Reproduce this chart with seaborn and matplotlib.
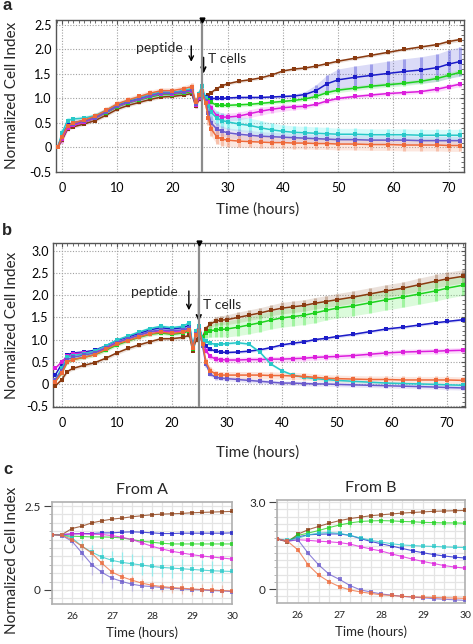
import numpy as np
import pandas as pd
import seaborn as sns
import matplotlib.pyplot as plt
from matplotlib.ticker import MultipleLocator, FuncFormatter

# ------------------------------------------------
# Data
# ------------------------------------------------
time_a = [-0.8, 0, 1, 2, 4, 6, 8, 10, 12, 14, 16, 18, 20, 22, 23.5, 24.2, 24.8, 25.3, 26, 26.5,
          27, 28, 29, 30, 32, 34, 36, 38, 40, 42, 44, 46, 48, 50, 53, 56, 59, 62, 65, 68, 70, 72]

a_brown = [0.0, 0.15, 0.38, 0.42, 0.48, 0.55, 0.66, 0.78, 0.86, 0.92, 0.98, 1.03, 1.04, 1.07, 1.1, 0.84, 0.98, 1.05, 1.02, 1.07,
           1.12, 1.2, 1.26, 1.3, 1.35, 1.38, 1.42, 1.48, 1.56, 1.6, 1.62, 1.66, 1.71, 1.76, 1.82, 1.88, 1.94, 2.0, 2.05, 2.1, 2.16, 2.2]
a_blue = [0.0, 0.25, 0.45, 0.5, 0.55, 0.62, 0.74, 0.86, 0.94, 1.0, 1.07, 1.12, 1.12, 1.15, 1.18, 0.9, 1.05, 1.15, 1.03, 1.0,
          1.0, 1.0, 1.0, 1.01, 1.02, 1.02, 1.02, 1.03, 1.04, 1.05, 1.08, 1.16, 1.3, 1.38, 1.43, 1.47, 1.51, 1.55, 1.58, 1.63, 1.7, 1.75]
a_green = [0.0, 0.2, 0.42, 0.46, 0.52, 0.6, 0.71, 0.83, 0.91, 0.97, 1.03, 1.08, 1.08, 1.11, 1.14, 0.88, 1.02, 1.12, 1.0, 0.97,
           0.92, 0.86, 0.86, 0.86, 0.87, 0.88, 0.9, 0.92, 0.94, 0.96, 0.99, 1.04, 1.12, 1.17, 1.21, 1.25, 1.28, 1.31, 1.35, 1.41, 1.47, 1.53]
a_magenta = [0.0, 0.18, 0.4, 0.45, 0.52, 0.6, 0.72, 0.84, 0.92, 0.98, 1.05, 1.1, 1.1, 1.13, 1.16, 0.86, 1.0, 1.1, 1.0, 0.92,
             0.8, 0.65, 0.62, 0.62, 0.64, 0.69, 0.74, 0.78, 0.81, 0.83, 0.84, 0.88, 0.95, 1.0, 1.04, 1.07, 1.1, 1.12, 1.14, 1.19, 1.24, 1.29]
a_cyan = [0.0, 0.3, 0.55, 0.58, 0.6, 0.65, 0.76, 0.88, 0.96, 1.02, 1.08, 1.13, 1.12, 1.16, 1.2, 0.9, 1.1, 1.25, 1.0, 0.85,
          0.72, 0.6, 0.55, 0.52, 0.48, 0.45, 0.4, 0.36, 0.33, 0.31, 0.3, 0.29, 0.28, 0.27, 0.27, 0.26, 0.26, 0.26, 0.25, 0.25, 0.25, 0.25]
a_purple = [0.0, 0.22, 0.44, 0.48, 0.54, 0.61, 0.72, 0.85, 0.93, 0.99, 1.06, 1.11, 1.11, 1.14, 1.17, 0.88, 1.04, 1.14, 0.95, 0.7,
            0.5, 0.38, 0.33, 0.3, 0.27, 0.25, 0.23, 0.22, 0.21, 0.2, 0.19, 0.18, 0.17, 0.16, 0.16, 0.15, 0.15, 0.15, 0.14, 0.14, 0.14, 0.14]
a_orange = [0.0, 0.22, 0.44, 0.5, 0.56, 0.64, 0.76, 0.89, 0.97, 1.04, 1.11, 1.16, 1.16, 1.2, 1.24, 0.92, 1.08, 1.15, 0.9, 0.6,
            0.38, 0.22, 0.17, 0.15, 0.13, 0.12, 0.11, 0.1, 0.1, 0.09, 0.09, 0.08, 0.08, 0.07, 0.07, 0.06, 0.06, 0.05, 0.05, 0.05, 0.04, 0.04]

a_brown_sd = [0.0, 0.03, 0.03, 0.03, 0.03, 0.03, 0.03, 0.03, 0.03, 0.03, 0.03, 0.03, 0.03, 0.03, 0.03, 0.03, 0.03, 0.03, 0.03, 0.03,
              0.03, 0.03, 0.03, 0.03, 0.03, 0.03, 0.03, 0.03, 0.03, 0.03, 0.03, 0.03, 0.03, 0.03, 0.03, 0.03, 0.03, 0.03, 0.03, 0.03, 0.04, 0.04]
a_blue_sd = [0.0, 0.05, 0.05, 0.05, 0.04, 0.04, 0.04, 0.04, 0.04, 0.04, 0.04, 0.04, 0.04, 0.04, 0.04, 0.04, 0.05, 0.05, 0.04, 0.03,
             0.03, 0.03, 0.03, 0.03, 0.03, 0.03, 0.03, 0.03, 0.03, 0.04, 0.06, 0.12, 0.18, 0.22, 0.23, 0.24, 0.25, 0.26, 0.27, 0.28, 0.29, 0.3]
a_green_sd = [0.0, 0.04, 0.04, 0.04, 0.04, 0.04, 0.04, 0.04, 0.04, 0.04, 0.04, 0.04, 0.04, 0.04, 0.04, 0.04, 0.04, 0.04, 0.04, 0.04,
              0.04, 0.04, 0.04, 0.04, 0.04, 0.04, 0.04, 0.04, 0.04, 0.04, 0.04, 0.05, 0.05, 0.05, 0.05, 0.05, 0.05, 0.05, 0.05, 0.06, 0.06, 0.06]
a_magenta_sd = [0.0, 0.08, 0.06, 0.05, 0.05, 0.05, 0.05, 0.05, 0.05, 0.05, 0.05, 0.05, 0.05, 0.05, 0.05, 0.05, 0.05, 0.05, 0.05, 0.06,
                0.08, 0.08, 0.08, 0.08, 0.08, 0.08, 0.08, 0.07, 0.07, 0.06, 0.05, 0.04, 0.04, 0.04, 0.04, 0.04, 0.04, 0.04, 0.04, 0.05, 0.05, 0.05]
a_cyan_sd = [0.0, 0.08, 0.06, 0.05, 0.05, 0.05, 0.05, 0.05, 0.05, 0.05, 0.05, 0.05, 0.05, 0.05, 0.05, 0.05, 0.06, 0.06, 0.08, 0.12,
             0.15, 0.15, 0.15, 0.15, 0.15, 0.15, 0.15, 0.14, 0.13, 0.13, 0.13, 0.13, 0.13, 0.12, 0.12, 0.12, 0.12, 0.12, 0.12, 0.12, 0.12, 0.12]
a_purple_sd = [0.0, 0.06, 0.05, 0.05, 0.05, 0.05, 0.05, 0.05, 0.05, 0.05, 0.05, 0.05, 0.05, 0.05, 0.05, 0.05, 0.06, 0.06, 0.1, 0.14,
               0.14, 0.12, 0.1, 0.1, 0.1, 0.1, 0.09, 0.09, 0.09, 0.09, 0.09, 0.09, 0.09, 0.09, 0.09, 0.09, 0.09, 0.09, 0.09, 0.09, 0.09, 0.09]
a_orange_sd = [0.0, 0.06, 0.06, 0.06, 0.06, 0.06, 0.06, 0.06, 0.06, 0.06, 0.06, 0.06, 0.06, 0.06, 0.07, 0.07, 0.07, 0.07, 0.1, 0.15,
               0.15, 0.14, 0.13, 0.13, 0.13, 0.12, 0.12, 0.12, 0.12, 0.12, 0.12, 0.12, 0.12, 0.12, 0.12, 0.12, 0.12, 0.12, 0.12, 0.12, 0.12, 0.12]

time_b = [-1.2, 0, 1, 2, 4, 6, 8, 10, 12, 14, 16, 18, 20, 22, 23.2, 23.8, 24.4, 25.0, 25.6, 26.2,
          27, 28, 29, 30, 32, 34, 36, 38, 40, 42, 44, 46, 48, 50, 53, 56, 59, 62, 65, 68, 70, 73]

b_brown = [-0.05, 0.1, 0.28, 0.35, 0.42, 0.48, 0.58, 0.7, 0.8, 0.88, 0.95, 1.02, 1.02, 1.05, 1.1, 0.75, 1.0, 1.05, 1.05, 1.25,
           1.35, 1.42, 1.44, 1.45, 1.5, 1.55, 1.6, 1.66, 1.71, 1.74, 1.77, 1.82, 1.86, 1.9, 1.96, 2.03, 2.1, 2.16, 2.24, 2.32, 2.37, 2.43]
b_blue = [0.2, 0.45, 0.66, 0.7, 0.72, 0.76, 0.86, 0.98, 1.06, 1.14, 1.22, 1.27, 1.24, 1.27, 1.32, 0.82, 1.15, 1.25, 1.02, 0.85,
          0.78, 0.74, 0.72, 0.71, 0.72, 0.74, 0.77, 0.82, 0.88, 0.92, 0.95, 1.0, 1.03, 1.07, 1.12, 1.18, 1.24, 1.28, 1.33, 1.38, 1.41, 1.45]
b_green = [0.05, 0.25, 0.5, 0.55, 0.6, 0.66, 0.76, 0.88, 0.97, 1.05, 1.12, 1.15, 1.12, 1.15, 1.2, 0.78, 1.1, 1.2, 1.05, 1.15,
           1.2, 1.22, 1.23, 1.24, 1.28, 1.33, 1.38, 1.44, 1.49, 1.52, 1.55, 1.6, 1.66, 1.71, 1.76, 1.83, 1.9, 1.96, 2.03, 2.1, 2.16, 2.23]
b_magenta = [0.35, 0.5, 0.62, 0.68, 0.7, 0.72, 0.82, 0.94, 1.02, 1.1, 1.17, 1.2, 1.17, 1.2, 1.25, 0.8, 1.1, 1.2, 0.95, 0.75,
             0.62, 0.56, 0.55, 0.54, 0.54, 0.55, 0.55, 0.56, 0.56, 0.57, 0.58, 0.6, 0.61, 0.62, 0.64, 0.67, 0.7, 0.72, 0.73, 0.74, 0.75, 0.76]
b_cyan = [0.1, 0.35, 0.6, 0.64, 0.68, 0.74, 0.86, 0.99, 1.08, 1.17, 1.25, 1.3, 1.27, 1.3, 1.38, 0.85, 1.2, 1.3, 1.0, 0.96,
          0.92, 0.89, 0.9, 0.91, 0.93, 0.9, 0.72, 0.45, 0.3, 0.2, 0.15, 0.12, 0.1, 0.08, 0.06, 0.04, 0.02, 0.01, 0.0, -0.01, -0.02, -0.03]
b_purple = [0.1, 0.3, 0.55, 0.6, 0.65, 0.7, 0.8, 0.93, 1.02, 1.1, 1.18, 1.22, 1.2, 1.22, 1.27, 0.8, 1.12, 1.22, 0.85, 0.45,
            0.22, 0.15, 0.13, 0.12, 0.1, 0.08, 0.06, 0.04, 0.02, 0.02, 0.01, 0.0, 0.0, -0.01, -0.02, -0.03, -0.04, -0.05, -0.06, -0.07, -0.08, -0.09]
b_orange = [0.05, 0.25, 0.5, 0.55, 0.6, 0.66, 0.78, 0.9, 0.98, 1.06, 1.13, 1.17, 1.14, 1.17, 1.22, 0.8, 1.1, 1.2, 0.9, 0.5,
            0.3, 0.22, 0.2, 0.2, 0.2, 0.2, 0.2, 0.19, 0.19, 0.18, 0.17, 0.15, 0.13, 0.12, 0.11, 0.1, 0.1, 0.09, 0.09, 0.09, 0.09, 0.08]

b_brown_sd = [0.0, 0.04, 0.04, 0.04, 0.04, 0.04, 0.04, 0.04, 0.04, 0.04, 0.04, 0.04, 0.04, 0.04, 0.04, 0.04, 0.05, 0.05, 0.05, 0.06,
              0.08, 0.1, 0.1, 0.11, 0.12, 0.12, 0.12, 0.12, 0.13, 0.13, 0.13, 0.13, 0.13, 0.14, 0.14, 0.14, 0.14, 0.14, 0.15, 0.15, 0.15, 0.15]
b_blue_sd = [0.0, 0.04, 0.04, 0.03, 0.03, 0.03, 0.03, 0.03, 0.03, 0.03, 0.03, 0.03, 0.03, 0.03, 0.03, 0.03, 0.03, 0.03, 0.03, 0.03,
             0.03, 0.03, 0.03, 0.03, 0.03, 0.03, 0.03, 0.03, 0.03, 0.03, 0.03, 0.03, 0.03, 0.03, 0.03, 0.03, 0.03, 0.03, 0.03, 0.03, 0.03, 0.03]
b_green_sd = [0.0, 0.04, 0.04, 0.04, 0.04, 0.04, 0.04, 0.04, 0.04, 0.04, 0.04, 0.04, 0.04, 0.04, 0.04, 0.04, 0.05, 0.05, 0.06, 0.12,
              0.15, 0.16, 0.17, 0.18, 0.19, 0.2, 0.2, 0.2, 0.21, 0.21, 0.21, 0.22, 0.22, 0.22, 0.22, 0.23, 0.23, 0.23, 0.23, 0.23, 0.23, 0.23]
b_magenta_sd = [0.0, 0.05, 0.05, 0.04, 0.04, 0.04, 0.04, 0.04, 0.04, 0.04, 0.04, 0.04, 0.04, 0.04, 0.04, 0.04, 0.04, 0.04, 0.05, 0.06,
                0.06, 0.06, 0.06, 0.06, 0.06, 0.06, 0.06, 0.06, 0.06, 0.06, 0.06, 0.06, 0.06, 0.06, 0.06, 0.06, 0.06, 0.06, 0.06, 0.06, 0.06, 0.06]
b_cyan_sd = [0.0, 0.04, 0.04, 0.04, 0.04, 0.04, 0.04, 0.04, 0.04, 0.04, 0.04, 0.04, 0.04, 0.04, 0.04, 0.04, 0.04, 0.04, 0.04, 0.04,
             0.03, 0.03, 0.03, 0.03, 0.03, 0.03, 0.03, 0.03, 0.03, 0.03, 0.03, 0.03, 0.03, 0.03, 0.03, 0.03, 0.03, 0.03, 0.03, 0.03, 0.03, 0.03]
b_purple_sd = [0.0, 0.04, 0.04, 0.04, 0.04, 0.04, 0.04, 0.04, 0.04, 0.04, 0.04, 0.04, 0.04, 0.04, 0.04, 0.04, 0.04, 0.04, 0.05, 0.06,
               0.05, 0.05, 0.05, 0.05, 0.05, 0.05, 0.05, 0.05, 0.05, 0.05, 0.05, 0.05, 0.05, 0.05, 0.05, 0.05, 0.05, 0.05, 0.05, 0.05, 0.05, 0.05]
b_orange_sd = [0.0, 0.04, 0.04, 0.04, 0.04, 0.04, 0.04, 0.04, 0.04, 0.04, 0.04, 0.04, 0.04, 0.04, 0.04, 0.04, 0.04, 0.04, 0.06, 0.08,
               0.08, 0.08, 0.08, 0.08, 0.08, 0.08, 0.08, 0.08, 0.08, 0.08, 0.08, 0.08, 0.08, 0.08, 0.08, 0.08, 0.08, 0.08, 0.08, 0.08, 0.08, 0.08]

time_c = [25.5, 25.75, 26, 26.25, 26.5, 26.75, 27, 27.25, 27.5, 27.75, 28, 28.25, 28.5, 28.75, 29, 29.25, 29.5, 29.75, 30]

ca_brown = [1.65, 1.65, 1.83, 1.9, 2.0, 2.06, 2.11, 2.14, 2.18, 2.21, 2.24, 2.26, 2.27, 2.28, 2.3, 2.31, 2.32, 2.33, 2.34]
ca_blue = [1.65, 1.65, 1.67, 1.68, 1.68, 1.7, 1.7, 1.72, 1.73, 1.72, 1.7, 1.68, 1.68, 1.69, 1.69, 1.69, 1.69, 1.69, 1.7]
ca_green = [1.65, 1.63, 1.6, 1.59, 1.58, 1.58, 1.57, 1.55, 1.5, 1.45, 1.42, 1.39, 1.37, 1.37, 1.37, 1.37, 1.37, 1.37, 1.37]
ca_magenta = [1.65, 1.65, 1.67, 1.67, 1.66, 1.65, 1.62, 1.57, 1.5, 1.4, 1.3, 1.22, 1.15, 1.1, 1.05, 1.01, 0.98, 0.95, 0.92]
ca_cyan = [1.65, 1.65, 1.55, 1.3, 1.12, 0.98, 0.88, 0.82, 0.78, 0.74, 0.7, 0.67, 0.65, 0.63, 0.61, 0.59, 0.57, 0.56, 0.55]
ca_purple = [1.65, 1.62, 1.45, 1.1, 0.75, 0.52, 0.35, 0.25, 0.17, 0.12, 0.1, 0.07, 0.05, 0.03, 0.01, 0.0, -0.02, -0.03, -0.05]
ca_orange = [1.65, 1.63, 1.5, 1.3, 1.09, 0.79, 0.53, 0.39, 0.29, 0.2, 0.14, 0.1, 0.07, 0.05, 0.03, 0.01, 0.0, -0.02, -0.03]

ca_brown_sd = [0.02, 0.02, 0.03, 0.03, 0.03, 0.03, 0.03, 0.03, 0.03, 0.03, 0.03, 0.03, 0.03, 0.03, 0.03, 0.03, 0.03, 0.03, 0.03]
ca_blue_sd = [0.02, 0.03, 0.04, 0.04, 0.05, 0.05, 0.05, 0.04, 0.04, 0.04, 0.04, 0.04, 0.04, 0.04, 0.04, 0.04, 0.04, 0.04, 0.04]
ca_green_sd = [0.02, 0.04, 0.06, 0.06, 0.06, 0.06, 0.06, 0.06, 0.06, 0.06, 0.06, 0.06, 0.06, 0.06, 0.06, 0.06, 0.06, 0.06, 0.06]
ca_magenta_sd = [0.02, 0.03, 0.04, 0.04, 0.04, 0.04, 0.05, 0.05, 0.05, 0.05, 0.05, 0.05, 0.05, 0.05, 0.05, 0.05, 0.05, 0.05, 0.05]
ca_cyan_sd = [0.02, 0.05, 0.12, 0.18, 0.22, 0.26, 0.28, 0.3, 0.3, 0.3, 0.3, 0.3, 0.3, 0.3, 0.3, 0.3, 0.3, 0.3, 0.3]
ca_purple_sd = [0.02, 0.05, 0.12, 0.22, 0.3, 0.32, 0.3, 0.25, 0.2, 0.15, 0.12, 0.1, 0.08, 0.06, 0.05, 0.05, 0.05, 0.05, 0.05]
ca_orange_sd = [0.02, 0.04, 0.08, 0.1, 0.12, 0.12, 0.12, 0.12, 0.12, 0.12, 0.14, 0.15, 0.16, 0.17, 0.18, 0.18, 0.18, 0.18, 0.18]

cb_brown = [1.73, 1.62, 1.89, 2.05, 2.16, 2.27, 2.36, 2.43, 2.48, 2.53, 2.56, 2.59, 2.62, 2.64, 2.66, 2.68, 2.69, 2.7, 2.71]
cb_blue = [1.73, 1.65, 1.8, 1.87, 1.89, 1.9, 1.9, 1.85, 1.74, 1.64, 1.56, 1.48, 1.4, 1.32, 1.25, 1.19, 1.14, 1.1, 1.07]
cb_green = [1.73, 1.65, 1.85, 1.93, 2.02, 2.12, 2.21, 2.28, 2.33, 2.35, 2.36, 2.35, 2.33, 2.32, 2.3, 2.29, 2.28, 2.28, 2.27]
cb_magenta = [1.73, 1.65, 1.7, 1.68, 1.65, 1.63, 1.6, 1.55, 1.46, 1.38, 1.31, 1.21, 1.12, 1.03, 0.95, 0.88, 0.81, 0.76, 0.72]
cb_cyan = [1.73, 1.68, 1.75, 1.87, 1.93, 1.95, 1.92, 1.85, 1.76, 1.68, 1.62, 1.56, 1.52, 1.5, 1.48, 1.47, 1.45, 1.44, 1.43]
cb_purple = [1.73, 1.65, 1.7, 1.23, 0.83, 0.51, 0.33, 0.12, -0.03, -0.1, -0.17, -0.21, -0.25, -0.28, -0.3, -0.33, -0.35, -0.37, -0.39]
cb_orange = [1.73, 1.65, 1.35, 0.83, 0.48, 0.25, 0.08, -0.03, -0.1, -0.15, -0.2, -0.22, -0.25, -0.27, -0.28, -0.29, -0.3, -0.31, -0.32]

cb_brown_sd = [0.03, 0.04, 0.06, 0.06, 0.06, 0.07, 0.07, 0.07, 0.07, 0.07, 0.07, 0.07, 0.07, 0.07, 0.07, 0.07, 0.07, 0.07, 0.07]
cb_blue_sd = [0.03, 0.03, 0.04, 0.04, 0.04, 0.04, 0.04, 0.05, 0.05, 0.05, 0.05, 0.05, 0.05, 0.05, 0.05, 0.05, 0.05, 0.05, 0.05]
cb_green_sd = [0.03, 0.05, 0.08, 0.1, 0.12, 0.12, 0.13, 0.13, 0.13, 0.13, 0.13, 0.13, 0.13, 0.13, 0.13, 0.13, 0.13, 0.13, 0.13]
cb_magenta_sd = [0.03, 0.03, 0.04, 0.04, 0.04, 0.04, 0.04, 0.04, 0.04, 0.04, 0.04, 0.04, 0.04, 0.04, 0.04, 0.04, 0.04, 0.04, 0.04]
cb_cyan_sd = [0.03, 0.03, 0.04, 0.04, 0.04, 0.04, 0.04, 0.04, 0.04, 0.04, 0.04, 0.04, 0.04, 0.04, 0.04, 0.04, 0.04, 0.04, 0.04]
cb_purple_sd = [0.03, 0.03, 0.04, 0.04, 0.04, 0.04, 0.04, 0.04, 0.04, 0.04, 0.04, 0.04, 0.04, 0.04, 0.04, 0.04, 0.04, 0.04, 0.04]
cb_orange_sd = [0.03, 0.04, 0.06, 0.08, 0.1, 0.1, 0.1, 0.1, 0.1, 0.1, 0.1, 0.1, 0.1, 0.1, 0.1, 0.1, 0.1, 0.1, 0.1]

# ------------------------------------------------
# Style
# ------------------------------------------------
order = ["brown", "blue", "green", "magenta", "cyan", "purple", "orange"]
line_colors = {"brown": "#8a3a10", "blue": "#1c1cc8", "green": "#1ed21e", "magenta": "#dc1edc",
               "cyan": "#28c8c8", "purple": "#6a5acd", "orange": "#ee6a3a"}
band_colors = {"brown": "#b08a70", "blue": "#7070e0", "green": "#70f070", "magenta": "#f070f0",
               "cyan": "#60f0f0", "purple": "#a89ee0", "orange": "#f4a080"}

sns.set_theme(style="white")
plt.rcParams["font.family"] = ["Lato", "DejaVu Sans"]

W, H = 473, 644
fig = plt.figure(figsize=(W / 100, H / 100), dpi=100)


def px_axes(left, top, right, bottom):
    return fig.add_axes([left / W, 1 - bottom / H, (right - left) / W, (bottom - top) / H])


def long_frame(t, series):
    rows = []
    for name in order:
        for ti, v in zip(t, series[name]):
            rows.append((name, ti, v))
    return pd.DataFrame(rows, columns=["series", "time", "value"])


def draw_series(ax, t, series, sds, msize, lw, elw, ealpha, falpha, lalpha):
    for name in order:
        v = np.array(series[name])
        e = np.array(sds[name])
        ax.fill_between(t, v - e, v + e, color=band_colors[name], alpha=falpha, lw=0, zorder=1)
        ax.errorbar(t, v, yerr=e, fmt="none", ecolor=band_colors[name], elinewidth=elw,
                    alpha=ealpha, zorder=2)
    df = long_frame(t, series)
    sns.lineplot(data=df, x="time", y="value", hue="series", hue_order=order, palette=line_colors,
                 estimator=None, sort=False, legend=False, marker="s", markersize=msize,
                 markeredgewidth=0, lw=lw, alpha=lalpha, ax=ax, zorder=3)


def fmt_tick(v, pos):
    if abs(v) < 1e-9:
        return "0"
    return "%.1f" % v


def style_main(ax, xlim, ylim, ytop, tcell_x):
    ax.set_xlim(*xlim)
    ax.set_ylim(*ylim)
    ax.set_xticks(np.arange(0, 71, 10))
    ax.set_yticks(np.arange(-0.5, ytop + 0.01, 0.5))
    ax.xaxis.set_minor_locator(MultipleLocator(1))
    ax.yaxis.set_minor_locator(MultipleLocator(0.1))
    ax.yaxis.set_major_formatter(FuncFormatter(fmt_tick))
    ax.grid(True, which="major", ls=(0, (1, 1.5)), color="#a0a0a0", lw=0.8)
    ax.tick_params(which="both", direction="in", top=True, right=True, colors="#555555",
                   labelcolor="black")
    ax.tick_params(which="major", length=3, width=0.8)
    ax.tick_params(which="minor", length=2, width=0.6)
    ax.tick_params(axis="x", labelsize=9, pad=7)
    ax.tick_params(axis="y", labelsize=9, pad=3)
    for s in ax.spines.values():
        s.set_color("#555555")
        s.set_linewidth(1.0)
    ax.set_xlabel("")
    ax.set_ylabel("")
    ax.axvline(tcell_x, color="#8c8c8c", lw=1.6, zorder=4)
    ax.plot([tcell_x], [ylim[1]], marker="v", color="black", markersize=3.5, clip_on=False, zorder=5)


def annotate_main(ax, pep_text, pep_arrow, tc_text, tc_arrow):
    ax.text(pep_text[0], pep_text[1], "peptide", ha="center", va="center", fontsize=10)
    ax.annotate("", xy=(pep_arrow[0], pep_arrow[2]), xytext=(pep_arrow[0], pep_arrow[1]),
                arrowprops=dict(arrowstyle="->", color="black", lw=1.0, mutation_scale=8))
    ax.text(tc_text[0], tc_text[1], "T cells", ha="left", va="center", fontsize=10)
    ax.annotate("", xy=(tc_arrow[0], tc_arrow[2]), xytext=(tc_arrow[0], tc_arrow[1]),
                arrowprops=dict(arrowstyle="->", color="black", lw=1.3, mutation_scale=8))


def style_zoom(ax, ylim, ytop, ytop_label):
    ax.set_xlim(25.5, 30.0)
    ax.set_ylim(*ylim)
    ax.set_xticks([26, 27, 28, 29, 30])
    ax.set_yticks([0, ytop])
    ax.set_yticklabels(["0", ytop_label])
    ax.xaxis.set_minor_locator(MultipleLocator(0.25))
    ax.yaxis.set_minor_locator(MultipleLocator(0.25))
    ax.grid(True, which="both", color="#e4e4e4", lw=0.9)
    ax.tick_params(axis="x", which="both", length=0, labelsize=7.5, pad=6)
    ax.tick_params(axis="y", which="major", direction="out", length=6, width=0.8,
                   color="#444444", labelsize=8.5, pad=2, left=True)
    ax.tick_params(axis="y", which="minor", direction="out", length=2, width=0.5,
                   color="#999999", left=True)
    for s in ax.spines.values():
        s.set_color("#b0b0b0")
        s.set_linewidth(1.2)
    ax.set_xlabel("Time (hours)", fontsize=9.5, labelpad=4)
    ax.set_ylabel("")


series_a = {"brown": a_brown, "blue": a_blue, "green": a_green, "magenta": a_magenta,
            "cyan": a_cyan, "purple": a_purple, "orange": a_orange}
sd_a = {"brown": a_brown_sd, "blue": a_blue_sd, "green": a_green_sd, "magenta": a_magenta_sd,
        "cyan": a_cyan_sd, "purple": a_purple_sd, "orange": a_orange_sd}
series_b = {"brown": b_brown, "blue": b_blue, "green": b_green, "magenta": b_magenta,
            "cyan": b_cyan, "purple": b_purple, "orange": b_orange}
sd_b = {"brown": b_brown_sd, "blue": b_blue_sd, "green": b_green_sd, "magenta": b_magenta_sd,
        "cyan": b_cyan_sd, "purple": b_purple_sd, "orange": b_orange_sd}
series_ca = {"brown": ca_brown, "blue": ca_blue, "green": ca_green, "magenta": ca_magenta,
             "cyan": ca_cyan, "purple": ca_purple, "orange": ca_orange}
sd_ca = {"brown": ca_brown_sd, "blue": ca_blue_sd, "green": ca_green_sd, "magenta": ca_magenta_sd,
         "cyan": ca_cyan_sd, "purple": ca_purple_sd, "orange": ca_orange_sd}
series_cb = {"brown": cb_brown, "blue": cb_blue, "green": cb_green, "magenta": cb_magenta,
             "cyan": cb_cyan, "purple": cb_purple, "orange": cb_orange}
sd_cb = {"brown": cb_brown_sd, "blue": cb_blue_sd, "green": cb_green_sd, "magenta": cb_magenta_sd,
         "cyan": cb_cyan_sd, "purple": cb_purple_sd, "orange": cb_orange_sd}

# ------------------------------------------------
# Panel a
# ------------------------------------------------
ax_a = px_axes(56, 19.5, 464, 172)
draw_series(ax_a, time_a, series_a, sd_a, 2.4, 1.1, 2.2, 0.55, 0.25, 1.0)
style_main(ax_a, (-1.1, 72.8), (-0.5, 2.61), 2.5, 25.4)
annotate_main(ax_a, (17.6, 2.03), (23.4, 2.13, 1.69), (26.5, 1.81), (25.6, 1.89, 1.45))

# ------------------------------------------------
# Panel b
# ------------------------------------------------
ax_b = px_axes(53, 243, 465, 407)
draw_series(ax_b, time_b, series_b, sd_b, 2.4, 1.1, 2.2, 0.55, 0.25, 1.0)
style_main(ax_b, (-1.6, 73.3), (-0.52, 3.18), 3.0, 25.0)
annotate_main(ax_b, (16.9, 2.08), (23.1, 2.16, 1.6), (25.6, 1.78), (24.9, 2.0, 1.35))

# ------------------------------------------------
# Panel c
# ------------------------------------------------
ax_ca = px_axes(52, 502, 232, 604)
draw_series(ax_ca, time_c, series_ca, sd_ca, 3.2, 0.8, 0.9, 0.6, 0.0, 0.75)
style_zoom(ax_ca, (-0.42, 2.62), 2.5, "2.5")
ax_ca.set_title("From A", fontsize=11.5, pad=6)

ax_cb = px_axes(277, 500, 465, 603)
draw_series(ax_cb, time_c, series_cb, sd_cb, 3.2, 0.8, 0.9, 0.6, 0.0, 0.75)
style_zoom(ax_cb, (-0.48, 3.07), 3.0, "3.0")
ax_cb.set_title("From B", fontsize=11.5, pad=6)

# ------------------------------------------------
# Figure texts
# ------------------------------------------------
fig.text(258 / W, 1 - 210 / H, "Time (hours)", ha="center", va="center", fontsize=11)
fig.text(258 / W, 1 - 453 / H, "Time (hours)", ha="center", va="center", fontsize=11)
fig.text(12 / W, 1 - 95 / H, "Normalized Cell Index", rotation=90, ha="center", va="center", fontsize=11)
fig.text(12 / W, 1 - 325 / H, "Normalized Cell Index", rotation=90, ha="center", va="center", fontsize=11)
fig.text(12 / W, 1 - 560 / H, "Normalized Cell Index", rotation=90, ha="center", va="center", fontsize=11)
for label, (lx, ly) in {"a": (2, 6), "b": (2, 230), "c": (3, 470)}.items():
    fig.text(lx / W, 1 - ly / H, label, ha="left", va="center", fontsize=12, fontweight="bold",
             family=["Liberation Sans", "DejaVu Sans"])

fig.savefig("out.png", dpi=100)
